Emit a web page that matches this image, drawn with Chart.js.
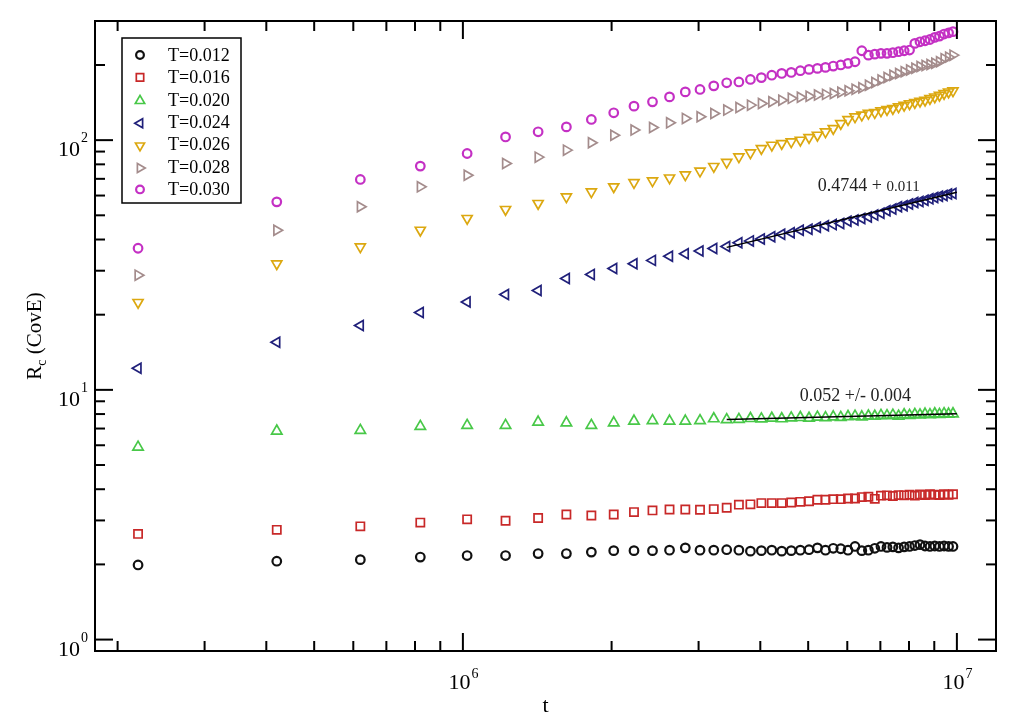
<!DOCTYPE html>
<html>
<head>
<meta charset="utf-8">
<script src="https://cdn.jsdelivr.net/npm/chart.js@4.4.0/dist/chart.umd.min.js"></script>
<style>
  html, body { margin: 0; padding: 0; background: #fff; }
  #wrap { width: 1014px; height: 723px; }
</style>
</head>
<body>
<div id="wrap"><canvas id="rcChart" width="1014" height="723"></canvas></div>
<script>
// time steps (t)
const tValues = [
  2.2e5, 4.2e5, 6.2e5, 8.2e5, 1.02e6, 1.22e6, 1.42e6, 1.62e6, 1.82e6, 2.02e6,
  2.22e6, 2.42e6, 2.62e6, 2.82e6, 3.02e6, 3.22e6, 3.42e6, 3.62e6, 3.82e6, 4.02e6,
  4.22e6, 4.42e6, 4.62e6, 4.82e6, 5.02e6, 5.22e6, 5.42e6, 5.62e6, 5.82e6, 6.02e6,
  6.22e6, 6.42e6, 6.62e6, 6.82e6, 7.02e6, 7.22e6, 7.42e6, 7.62e6, 7.82e6, 8.02e6,
  8.22e6, 8.42e6, 8.62e6, 8.82e6, 9.02e6, 9.22e6, 9.42e6, 9.62e6, 9.82e6
];

const seriesLabels = ['T=0.012', 'T=0.016', 'T=0.020', 'T=0.024', 'T=0.026', 'T=0.028', 'T=0.030'];

// R_c (CovE) per temperature
const rc012 = [
  1.99, 2.06, 2.09, 2.14, 2.17, 2.17, 2.21, 2.21, 2.24, 2.27,
  2.27, 2.27, 2.28, 2.33, 2.28, 2.28, 2.29, 2.28, 2.26, 2.27,
  2.28, 2.26, 2.27, 2.28, 2.29, 2.33, 2.28, 2.32, 2.31, 2.28,
  2.36, 2.27, 2.28, 2.32, 2.36, 2.34, 2.35, 2.33, 2.35, 2.36,
  2.38, 2.40, 2.37, 2.36, 2.37, 2.36, 2.37, 2.36, 2.36
];
const rc016 = [
  2.65, 2.75, 2.84, 2.94, 3.03, 2.99, 3.07, 3.17, 3.14, 3.17,
  3.24, 3.29, 3.32, 3.32, 3.31, 3.33, 3.37, 3.47, 3.48, 3.52,
  3.52, 3.52, 3.54, 3.56, 3.58, 3.63, 3.63, 3.65, 3.65, 3.67,
  3.67, 3.72, 3.73, 3.66, 3.77, 3.78, 3.76, 3.79, 3.78, 3.80,
  3.77, 3.81, 3.79, 3.82, 3.80, 3.79, 3.82, 3.80, 3.82
];
const rc020 = [
  5.90, 6.84, 6.88, 7.14, 7.21, 7.21, 7.43, 7.38, 7.21, 7.38,
  7.50, 7.53, 7.50, 7.50, 7.53, 7.66, 7.60, 7.62, 7.68, 7.65,
  7.70, 7.66, 7.72, 7.75, 7.70, 7.78, 7.74, 7.80, 7.76, 7.82,
  7.85, 7.80, 7.86, 7.84, 7.90, 7.88, 7.92, 7.85, 7.95, 7.90,
  7.98, 7.94, 8.00, 7.96, 8.02, 7.98, 8.03, 8.00, 8.02
];
const rc024 = [
  12.2, 15.5, 18.1, 20.4, 22.5, 24.1, 25.0, 27.9, 29.0, 30.6,
  32.0, 33.0, 34.3, 35.1, 36.0, 36.8, 37.5, 38.8, 39.5, 40.2,
  41.0, 42.0, 42.6, 43.6, 44.0, 44.8, 45.4, 45.9, 46.4, 47.3,
  47.9, 48.6, 49.2, 50.1, 51.0, 52.2, 53.0, 54.1, 54.6, 55.5,
  56.3, 56.8, 57.5, 58.2, 58.9, 59.6, 60.0, 60.8, 61.1
];
const rc026 = [
  22.4, 32.0, 37.4, 43.6, 48.6, 52.8, 55.8, 59.3, 62.1, 65.1,
  67.6, 68.7, 70.6, 72.6, 75.2, 78.5, 81.5, 85.8, 89.0, 92.6,
  95.5, 97.0, 98.5, 100.0, 102.5, 104.7, 108.0, 111.4, 116.6, 121.0,
  124.0, 126.0, 128.0, 129.0, 131.0, 132.7, 134.0, 136.0, 138.0, 140.0,
  141.6, 143.3, 144.6, 146.9, 149.0, 151.4, 153.8, 156.0, 157.6
];
const rc028 = [
  28.8, 43.6, 54.1, 65.0, 72.4, 80.6, 85.5, 91.2, 97.6, 104.7,
  109.7, 112.4, 117.3, 122.2, 124.1, 127.9, 131.9, 135.2, 138.1, 140.3,
  142.4, 144.6, 147.0, 148.5, 150.0, 151.5, 152.5, 153.8, 155.5, 157.6,
  160.0, 162.0, 166.0, 170.0, 174.0, 178.0, 182.0, 185.0, 188.0, 191.0,
  194.0, 197.0, 199.0, 201.0, 203.0, 206.0, 212.0, 215.0, 219.0
];
const rc030 = [
  36.9, 56.6, 69.6, 78.7, 88.4, 103.0, 108.0, 113.0, 121.0, 128.7,
  136.8, 142.4, 149.0, 156.0, 159.6, 165.0, 169.7, 171.0, 175.0, 178.0,
  182.0, 185.0, 186.7, 189.7, 192.0, 193.8, 195.6, 198.0, 200.0, 203.0,
  206.0, 228.0, 219.0, 221.0, 222.6, 222.6, 224.0, 226.0, 228.0, 229.5,
  244.0, 247.7, 250.0, 253.0, 258.0, 261.0, 266.0, 269.0, 272.0
];

// power-law fits (end points)
const fitT = [3.42e6, 1.0e7];
const fit020 = [7.6, 8.03];
const fit024 = [37.2, 61.9];
const fitText020 = '0.052 +/- 0.004';
const fitText024 = ['0.4744 + ', '0.011'];

// axis ticks
const xMajorTicks = [1e6, 1e7];
const xMajorExp = ['6', '7'];
const xMinorTicks = [2e5, 3e5, 4e5, 5e5, 6e5, 7e5, 8e5, 9e5, 2e6, 3e6, 4e6, 5e6, 6e6, 7e6, 8e6, 9e6];
const yMajorTicks = [1, 10, 100];
const yMajorExp = ['0', '1', '2'];
const yMinorTicks = [2, 3, 4, 5, 6, 7, 8, 9, 20, 30, 40, 50, 60, 70, 80, 90, 200];

const SERIF = '"Liberation Serif", "DejaVu Serif", serif';

const seriesData = [rc012, rc016, rc020, rc024, rc026, rc028, rc030];
const seriesStyle = [
  { color: '#111111', pointStyle: 'circle', rotation: 0, radius: 4.3, bw: 2.2 },
  { color: '#c82828', pointStyle: 'rect', rotation: 0, radius: 5.8, bw: 1.7 },
  { color: '#48c848', pointStyle: 'triangle', rotation: 0, radius: 6, bw: 1.7 },
  { color: '#20207a', pointStyle: 'triangle', rotation: -90, radius: 5.8, bw: 1.7 },
  { color: '#dca810', pointStyle: 'triangle', rotation: 180, radius: 5.8, bw: 1.7 },
  { color: '#a48c8c', pointStyle: 'triangle', rotation: 90, radius: 5.8, bw: 1.7 },
  { color: '#c430c4', pointStyle: 'circle', rotation: 0, radius: 4.3, bw: 2.2 }
];

const datasets = seriesData.map((vals, i) => {
  const s = seriesStyle[i];
  return {
    label: seriesLabels[i],
    data: vals.map((v, k) => ({ x: tValues[k], y: v })),
    showLine: false,
    pointStyle: s.pointStyle,
    rotation: s.rotation,
    pointRadius: s.radius,
    pointBorderWidth: s.bw,
    pointBorderColor: s.color,
    pointBackgroundColor: 'rgba(0,0,0,0)',
    order: 1
  };
});

[fit020, fit024].forEach((vals, i) => {
  datasets.push({
    label: 'fit' + i,
    data: vals.map((v, k) => ({ x: fitT[k], y: v })),
    showLine: true,
    borderColor: '#000',
    borderWidth: 1.5,
    pointRadius: 0,
    fill: false,
    order: -1
  });
});

// xmgrace-like frame, inward ticks, labels, legend and fit notes
const gracePlugin = {
  id: 'graceFrame',
  afterDraw(chart) {
    const ctx = chart.ctx;
    const { left, right, top, bottom } = chart.chartArea;
    const xs = chart.scales.x, ys = chart.scales.y;
    ctx.save();
    ctx.strokeStyle = '#000';
    ctx.fillStyle = '#000';
    ctx.lineWidth = 2;
    ctx.strokeRect(left, top, right - left, bottom - top);

    const tick = (x1, y1, x2, y2) => { ctx.beginPath(); ctx.moveTo(x1, y1); ctx.lineTo(x2, y2); ctx.stroke(); };
    const MAJ = 18, MIN = 10;
    xMajorTicks.forEach(v => { const p = xs.getPixelForValue(v); tick(p, bottom, p, bottom - MAJ); tick(p, top, p, top + MAJ); });
    xMinorTicks.forEach(v => { const p = xs.getPixelForValue(v); tick(p, bottom, p, bottom - MIN); tick(p, top, p, top + MIN); });
    yMajorTicks.forEach(v => { const p = ys.getPixelForValue(v); tick(left, p, left + MAJ, p); tick(right, p, right - MAJ, p); });
    yMinorTicks.forEach(v => { const p = ys.getPixelForValue(v); tick(left, p, left + MIN, p); tick(right, p, right - MIN, p); });

    // tick labels 10^n
    ctx.textBaseline = 'alphabetic';
    ctx.textAlign = 'left';
    const bigFont = '22px ' + SERIF, supFont = '14px ' + SERIF;
    xMajorTicks.forEach((v, i) => {
      const p = xs.getPixelForValue(v);
      ctx.font = bigFont; const w1 = ctx.measureText('10').width;
      ctx.font = supFont; const w2 = ctx.measureText(xMajorExp[i]).width;
      const x0 = p - (w1 + w2) / 2;
      ctx.font = bigFont; ctx.fillText('10', x0, bottom + 38);
      ctx.font = supFont; ctx.fillText(xMajorExp[i], x0 + w1 + 1, bottom + 27);
    });
    yMajorTicks.forEach((v, i) => {
      const p = ys.getPixelForValue(v);
      ctx.font = bigFont; const w1 = ctx.measureText('10').width;
      ctx.font = supFont; const w2 = ctx.measureText(yMajorExp[i]).width;
      const x0 = left - 7 - w2 - 1 - w1;
      ctx.font = bigFont; ctx.fillText('10', x0, p + 16);
      ctx.font = supFont; ctx.fillText(yMajorExp[i], x0 + w1 + 1, p + 2);
    });

    // axis titles
    ctx.font = '22px ' + SERIF;
    ctx.textAlign = 'center';
    ctx.fillText('t', (left + right) / 2, bottom + 61);

    ctx.save();
    ctx.translate(left - 54, (top + bottom) / 2);
    ctx.rotate(-Math.PI / 2);
    ctx.font = '21px ' + SERIF;
    const wR = ctx.measureText('R').width;
    const rest = ' (CovE)';
    const wRest = ctx.measureText(rest).width;
    ctx.font = '14px ' + SERIF;
    const wc = ctx.measureText('c').width;
    const tot = wR + wc + wRest;
    ctx.textAlign = 'left';
    ctx.font = '21px ' + SERIF;
    ctx.fillText('R', -tot / 2, 0);
    ctx.font = '14px ' + SERIF;
    ctx.fillText('c', -tot / 2 + wR, 5);
    ctx.font = '21px ' + SERIF;
    ctx.fillText(rest, -tot / 2 + wR + wc, 0);
    ctx.restore();

    // legend box
    const bx = left + 27, by = top + 17, bw = 119, bh = 165;
    ctx.fillStyle = '#fff';
    ctx.fillRect(bx, by, bw, bh);
    ctx.lineWidth = 1.5;
    ctx.strokeStyle = '#000';
    ctx.strokeRect(bx, by, bw, bh);
    ctx.font = '18px ' + SERIF;
    ctx.textBaseline = 'middle';
    ctx.textAlign = 'left';
    seriesLabels.forEach((lab, i) => {
      const s = seriesStyle[i];
      const ry = by + 17 + i * 22.4;
      ctx.save();
      ctx.strokeStyle = s.color;
      ctx.fillStyle = 'rgba(0,0,0,0)';
      ctx.lineWidth = s.bw;
      Chart.helpers.drawPoint(ctx, { pointStyle: s.pointStyle, rotation: s.rotation, radius: s.radius * 0.9, borderWidth: s.bw }, bx + 18, ry + (s.pointStyle === 'triangle' ? 1 : 0));
      ctx.restore();
      ctx.fillStyle = '#000';
      ctx.fillText(lab, bx + 46, ry + 1);
    });

    // fit annotations
    ctx.textBaseline = 'alphabetic';
    ctx.fillStyle = '#222';
    let ax = xs.getPixelForValue(5.23e6), ay = ys.getPixelForValue(62.6);
    ctx.font = '18px ' + SERIF;
    ctx.fillText(fitText024[0], ax, ay);
    const wa = ctx.measureText(fitText024[0]).width;
    ctx.font = '15px ' + SERIF;
    ctx.fillText(fitText024[1], ax + wa, ay);
    ax = xs.getPixelForValue(4.81e6); ay = ys.getPixelForValue(9.02);
    ctx.font = '18px ' + SERIF;
    ctx.fillText(fitText020, ax, ay);
    ctx.restore();
  }
};

new Chart(document.getElementById('rcChart').getContext('2d'), {
  type: 'scatter',
  data: { datasets: datasets },
  options: {
    responsive: false,
    devicePixelRatio: 1,
    animation: false,
    events: [],
    layout: { padding: { left: 0, top: 21, right: 18, bottom: 0 } },
    scales: {
      x: {
        type: 'logarithmic',
        min: 1.8e5,
        max: 1.2e7,
        grid: { display: false },
        border: { display: false },
        ticks: { display: false },
        afterFit: s => { s.height = 72; }
      },
      y: {
        type: 'logarithmic',
        min: 0.9,
        max: 300,
        grid: { display: false },
        border: { display: false },
        ticks: { display: false },
        afterFit: s => { s.width = 95; }
      }
    },
    plugins: {
      legend: { display: false },
      tooltip: { enabled: false }
    }
  },
  plugins: [gracePlugin]
});
</script>
</body>
</html>
